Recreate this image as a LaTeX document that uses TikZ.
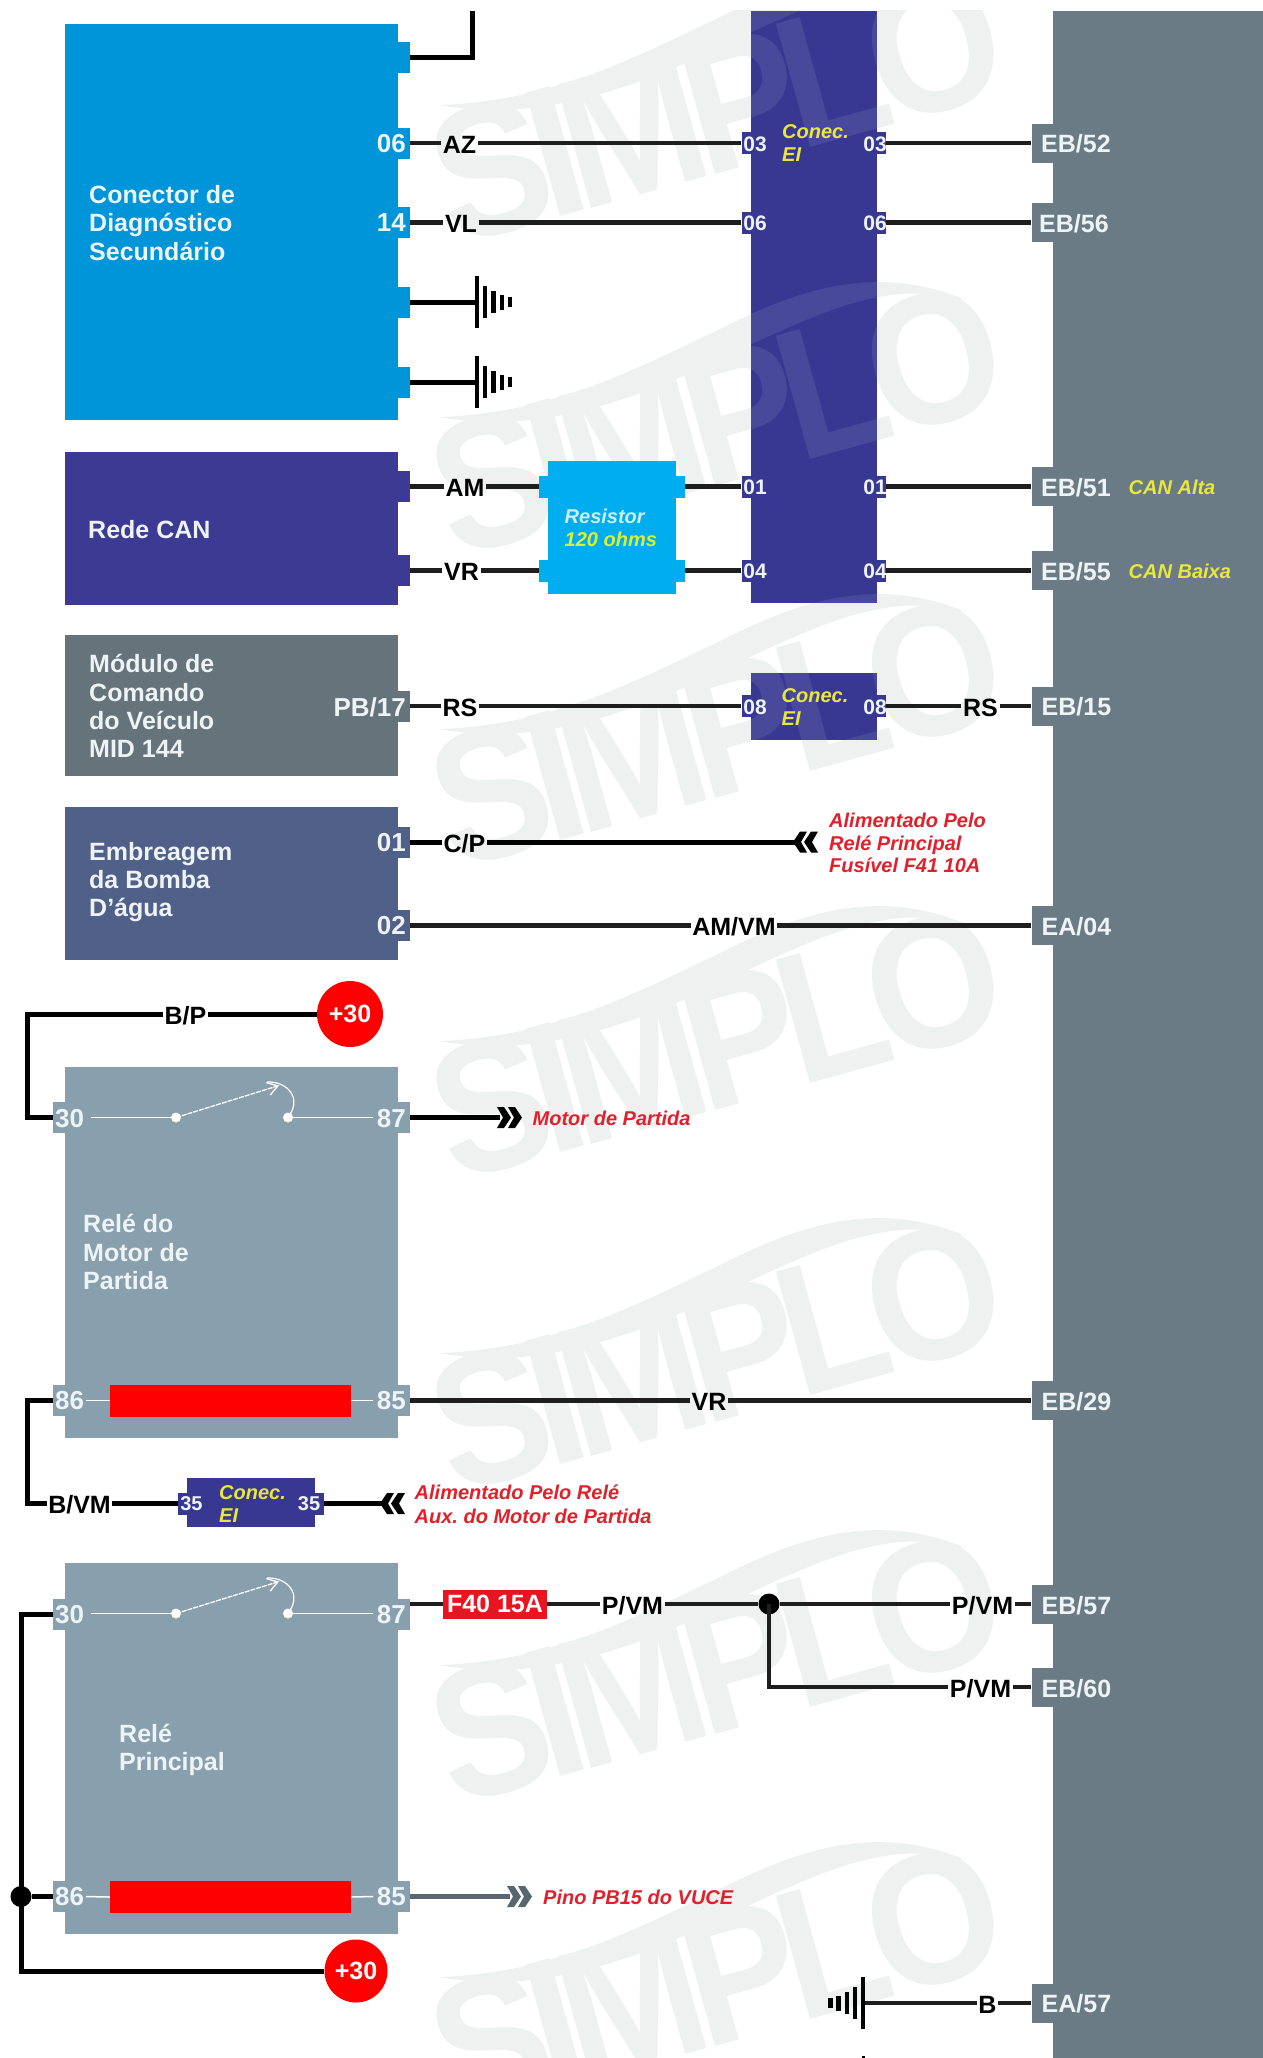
\documentclass[tikz,border=0pt]{standalone}
\usepackage{fontspec}
\setmainfont{Liberation Sans}
\usetikzlibrary{arrows.meta}
\definecolor{cblue}{HTML}{0094D9}
\definecolor{ccan}{HTML}{3C3A93}
\definecolor{cbar}{HTML}{383892}
\definecolor{cmod}{HTML}{65737B}
\definecolor{cemb}{HTML}{506089}
\definecolor{crel}{HTML}{88A0AE}
\definecolor{cgray}{HTML}{6B7B86}
\definecolor{cres}{HTML}{00AEEF}
\definecolor{cwm}{HTML}{EFF1F1}
\definecolor{cwire}{HTML}{1E1E1E}
\definecolor{cwire2}{HTML}{57666F}
\definecolor{cred}{HTML}{E2202C}
\definecolor{cyel}{HTML}{E8E83C}
\definecolor{ctxt}{HTML}{EEF3F6}
\newcommand\fsz[2]{\fontsize{#1}{#2}\selectfont}
\tikzset{
  blockbox/.style={draw=none,rectangle,inner sep=0pt},
  pintab/.style={draw=none,rectangle,inner sep=0pt,minimum width=12pt,minimum height=31pt},
  bigtab/.style={draw=none,rectangle,fill=cgray,inner sep=0pt,minimum width=26pt,minimum height=39pt},
  smalltab/.style={draw=none,rectangle,fill=cbar,inner sep=0pt,minimum width=9pt,minimum height=22pt},
  pinnum/.style={text=ctxt,font=\bfseries\fsz{26}{28},inner sep=0pt},
  conpin/.style={text=ctxt,font=\bfseries\fsz{21}{23},inner sep=0pt},
  eblabel/.style={text=ctxt,font=\bfseries\fsz{25}{28},inner sep=0pt,anchor=west},
  boxtext/.style={text=ctxt,font=\bfseries\fsz{25}{28.3},align=left,anchor=west,inner sep=0pt},
  conectxt/.style={text=cyel,font=\bfseries\itshape\fsz{20}{23},align=left,anchor=west,inner sep=0pt},
  noteR/.style={text=cred,font=\bfseries\itshape\fsz{20}{22.2},align=left,anchor=west,inner sep=0pt},
  noteY/.style={text=cyel,font=\bfseries\itshape\fsz{20}{22},anchor=west,inner sep=0pt},
  wlabel/.style={text=black,font=\bfseries\fsz{25}{28},inner xsep=1.5pt,inner ysep=0pt,text height=20pt,text depth=0pt},
  wirel/.style={line width=4.2pt,cwire,line join=miter},
  wireb/.style={line width=5pt,black,line join=miter},
  wireg/.style={line width=4.2pt,cwire2},
  inner/.style={line width=1.5pt,white},
  swdot/.style={circle,fill=white,draw=none,minimum size=10pt,inner sep=0pt},
  jdot/.style={circle,fill=black,draw=none,minimum size=21pt,inner sep=0pt},
  plus/.style={circle,fill=red,draw=none,text=white,font=\bfseries\fsz{25}{28},minimum size=66pt,inner sep=0pt}
}
\newcommand\blk[6]{\node[blockbox,fill=#6,minimum width=#3-#1,minimum height=#4-#2] (#5) at ({(#1+#3)/2},{(#2+#4)/2}) {};}
\newcommand\chevR[4]{\begin{scope}[shift={(#1,#2)},xscale=#4]
 \fill[#3] (0,-10.5)--(7,-10.5)--(14,0)--(7,10.5)--(0,10.5)--(6,0)--cycle;
 \fill[#3] (11,-10.5)--(18,-10.5)--(25,0)--(18,10.5)--(11,10.5)--(17,0)--cycle;
\end{scope}}
\newcommand\gnd[3]{\begin{scope}[shift={(#1,#2)},xscale=#3]
 \fill[black] (-2,-26) rectangle (2,26);
 \fill[black] (6,-16) rectangle (10,16);
 \fill[black] (14,-11) rectangle (18.5,11);
 \fill[black] (22.5,-7.5) rectangle (27,7.5);
 \fill[black] (30.5,-5) rectangle (35,5);
\end{scope}}
\newcommand\wmark[2]{\begin{scope}[shift={(922,#1)}]
 \fill[#2] (-482,56) .. controls (-370,52) and (-290,10) .. (-200,-33) .. controls (-130,-68) and (-50,-100) .. (44,-61)
   .. controls (-40,-82) and (-100,-50) .. (-223,8) .. controls (-310,48) and (-400,72) .. (-482,56) -- cycle;
 \node[text=#2,font=\bfseries\fsz{186}{186},rotate=15.5,inner sep=0pt,xscale=.92] (wm#1) at (-205,58) {S\kern-16pt I\kern-16pt M\kern-16pt P\kern-16pt L\kern-16pt O};
\end{scope}}
\begin{document}
\begin{tikzpicture}[x=1pt,y=-1pt]
\useasboundingbox (0,0) rectangle (1263,2058);
\fill[white] (0,0) rectangle (1263,2058);
% watermark
\begin{scope}
 \clip (0,11) rectangle (1263,2058);
 \foreach \yy in {49,361,673,985,1297,1609,1921} {\wmark{\yy}{cwm}}
\end{scope}
% right grey panel
\blk{1053}{11}{1263}{2058}{ecu}{cgray}
% main blocks
\blk{65}{24}{398}{420}{cds}{cblue}
\blk{65}{451.5}{398}{605}{can}{ccan}
\blk{65}{635}{398}{776}{mid}{cmod}
\blk{65}{806.5}{398}{960}{emb}{cemb}
\blk{65}{1066.5}{398}{1438}{rela}{crel}
\blk{65}{1563}{398}{1933.5}{relb}{crel}
\blk{750.5}{11}{877}{603}{conA}{cbar}
\blk{750.5}{672.5}{877}{739.5}{conB}{cbar}
\blk{187}{1478}{314.5}{1527}{conC}{cbar}
\blk{548}{461}{675.5}{594}{res}{cres}
\blk{110}{1384.5}{351}{1416.5}{coilA}{red}
\blk{110}{1881}{351}{1913}{coilB}{red}
% watermark seen through the connector bars
\begin{scope}
 \clip (750.5,11) rectangle (877,603) (750.5,672.5) rectangle (877,739.5);
 \begin{scope}[opacity=.09]
 \foreach \yy in {49,361,673} {\wmark{\yy}{white}}
 \end{scope}
\end{scope}
% block texts
\node[boxtext] (tcds) at (89,223) {Conector de\\Diagnóstico\\Secundário};
\node[boxtext] (tcan) at (88,530) {Rede CAN};
\node[boxtext] (tmid) at (89,706) {Módulo de\\Comando\\do Veículo\\MID 144};
\node[boxtext] (temb) at (89,882) {Embreagem\\da Bomba\\D’água};
\node[boxtext] (trela) at (83,1252) {Relé do\\Motor de\\Partida};
\node[boxtext] (trelb) at (119,1750) {Relé\\Principal};
% left block tabs
\node[pintab,fill=cblue] (a0) at (404,58) {};
\node[pintab,fill=cblue] (a06) at (404,143) {};
\node[pintab,fill=cblue] (a14) at (404,222.5) {};
\node[pintab,fill=cblue] (ag1) at (404,302) {};
\node[pintab,fill=cblue] (ag2) at (404,382) {};
\node[pintab,fill=ccan] (cam) at (404,486.5) {};
\node[pintab,fill=ccan] (cvr) at (404,570.5) {};
\node[pintab,fill=cmod] (m17) at (404,706) {};
\node[pintab,fill=cemb] (e01) at (404,842) {};
\node[pintab,fill=cemb] (e02) at (404,925.5) {};
\node[pintab,fill=crel] (r30) at (59,1117.5) {};
\node[pintab,fill=crel] (r87) at (404,1117.5) {};
\node[pintab,fill=crel] (r86) at (59,1400.5) {};
\node[pintab,fill=crel] (r85) at (404,1400.5) {};
\node[pintab,fill=crel] (p30) at (59,1614) {};
\node[pintab,fill=crel] (p87) at (404,1614) {};
\node[pintab,fill=crel] (p86) at (59,1896.5) {};
\node[pintab,fill=crel] (p85) at (404,1896.5) {};
% resistor tabs
\node[smalltab,fill=cres] (resa) at (543.5,486.5) {};
\node[smalltab,fill=cres] (resb) at (543.5,570.5) {};
\node[smalltab,fill=cres] (resc) at (680,486.5) {};
\node[smalltab,fill=cres] (resd) at (680,570.5) {};
% connector bar tabs
\foreach \nm/\yy in {3/143,6/222.5,1/486.5,4/570.5,8/706}{
  \node[smalltab] (cl\nm) at (746,\yy) {};
  \node[smalltab] (cr\nm) at (881.5,\yy) {};
}
\node[smalltab] (cl5) at (182.5,1503.5) {};
\node[smalltab] (cr5) at (319,1503.5) {};
% ECU tabs
\foreach \nm/\yy in {e52/143,e56/222.5,e51/486.5,e55/570.5,e15/706,e04/925.5,e29/1400.5,e57/1604,e60/1687,e5a/2003}{
  \node[bigtab] (\nm) at (1044.5,\yy) {};
}
% wire labels
\node[wlabel] (az) at (459.5,143) {AZ};
\node[wlabel] (vl) at (461,222.5) {VL};
\node[wlabel] (am) at (465,486.5) {AM};
\node[wlabel] (vr) at (461.5,570.5) {VR};
\node[wlabel] (rs1) at (460,706) {RS};
\node[wlabel] (rs2) at (980.5,706) {RS};
\node[wlabel] (cp) at (464.5,842) {C/P};
\node[wlabel] (amvm) at (734,925.5) {AM/VM};
\node[wlabel] (bp) at (185.5,1014) {B/P};
\node[wlabel] (vr2) at (709,1400.5) {VR};
\node[wlabel] (bvm) at (79.5,1503.5) {B/VM};
\node[wlabel] (pvm1) at (632.5,1604) {P/VM};
\node[wlabel] (pvm2) at (982.5,1604) {P/VM};
\node[wlabel] (pvm3) at (980.5,1687) {P/VM};
\node[wlabel] (bb) at (987.5,2003) {B};
\node[rectangle,fill={rgb,255:red,234;green,20;blue,32},text=white,font=\bfseries\fsz{25}{28},inner sep=0pt,minimum width=104pt,minimum height=29pt] (fuse) at (495,1604) {F40 15A};
\node[plus] (plusA) at (350,1014) {+30};
\node[plus,minimum size=63pt] (plusB) at (356,1971) {+30};
% wire end points
\coordinate (topend) at (472,11);
\coordinate (topbend) at (472,58);
\coordinate (g1) at (477,302);
\coordinate (g2) at (477,382);
\coordinate (g3) at (863,2003);
\coordinate (chev1) at (796,842);
\coordinate (chev2) at (500,1117.5);
\coordinate (chev3) at (384,1503.5);
\coordinate (chev4) at (510,1896.5);
\coordinate (p87w) at (410,1604);
\coordinate (bpa) at (27.5,1014);
\coordinate (bpb) at (27.5,1117.5);
\coordinate (bvma) at (27.5,1400.5);
\coordinate (bvmb) at (27.5,1503.5);
\node[jdot] (j1) at (769,1604) {};
\node[jdot] (j2) at (21,1896.5) {};
% wires
\draw[wireb] (a0.east) -- (topbend) -- (topend);
\draw[wirel] (a06.east) -- (az) -- (cl3.west);
\draw[wirel] (a14.east) -- (vl) -- (cl6.west);
\draw[wirel] (cr3.east) -- (e52.west);
\draw[wirel] (cr6.east) -- (e56.west);
\draw[wireb] (ag1.east) -- (g1);
\draw[wireb] (ag2.east) -- (g2);
\draw[wirel] (cam.east) -- (am) -- (resa.west);
\draw[wirel] (cvr.east) -- (vr) -- (resb.west);
\draw[wirel] (resc.east) -- (cl1.west);
\draw[wirel] (resd.east) -- (cl4.west);
\draw[wirel] (cr1.east) -- (e51.west);
\draw[wirel] (cr4.east) -- (e55.west);
\draw[wirel] (m17.east) -- (rs1) -- (cl8.west);
\draw[wirel] (cr8.east) -- (rs2) -- (e15.west);
\draw[wireb] (e01.east) -- (cp) -- (chev1);
\draw[wirel] (e02.east) -- (amvm) -- (e04.west);
\draw[wireb] (plusA) -- (bp);
\draw[wireb] (bp) -- (bpa) -- (bpb) -- (r30.west);
\draw[wireb] (r87.east) -- (chev2);
\draw[wirel] (r85.east) -- (vr2) -- (e29.west);
\draw[wireb] (r86.west) -- (bvma) -- (bvmb) -- (bvm);
\draw[wireb] (bvm) -- (cl5.west);
\draw[wireb] (cr5.east) -- (chev3);
\draw[wirel] (p87w) -- (fuse) -- (pvm1) -- (j1);
\draw[wirel] (j1) -- (pvm2) -- (e57.west);
\draw[wirel] (j1.center) |- (pvm3.west);
\draw[wirel] (pvm3) -- (e60.west);
\draw[wireb] (p30.west) -| (j2.center);
\draw[wireb] (p86.west) -- (j2);
\draw[wireb] (j2.center) |- (plusB.west);
\draw[wireg] (p85.east) -- (chev4);
\draw[wirel] (g3) -- (bb) -- (e5a.west);
% ground symbols and chevrons
\gnd{477}{302}{1}
\gnd{477}{382}{1}
\gnd{863}{2003}{-1}
\chevR{818}{842}{black}{-1}
\chevR{497}{1117.5}{black}{1}
\chevR{405}{1503.5}{black}{-1}
\chevR{507}{1896.5}{cwire2}{1}
\fill[black] (862,2055.5) rectangle (865,2058);
% pin numbers
\node[pinnum,anchor=east] (n06) at (406,144) {06};
\node[pinnum,anchor=east] (n14) at (406,223) {14};
\node[pinnum,anchor=east] (n17) at (406,707) {PB/17};
\node[pinnum,anchor=east] (n01) at (406,843) {01};
\node[pinnum,anchor=east] (n02) at (406,926) {02};
\node[pinnum,anchor=west] (n30a) at (55,1118.5) {30};
\node[pinnum,anchor=east] (n87a) at (406,1118.5) {87};
\node[pinnum,anchor=west] (n86a) at (55,1401) {86};
\node[pinnum,anchor=east] (n85a) at (406,1401) {85};
\node[pinnum,anchor=west] (n30b) at (55,1614.5) {30};
\node[pinnum,anchor=east] (n87b) at (406,1614.5) {87};
\node[pinnum,anchor=west] (n86b) at (55,1897) {86};
\node[pinnum,anchor=east] (n85b) at (406,1897) {85};
% connector pin numbers
\foreach \tt/\yy in {03/144,06/223,01/487,04/571,08/707}{
  \node[conpin] (pl\tt) at (755,\yy) {\tt};
  \node[conpin] (pr\tt) at (875,\yy) {\tt};
}
\node[conpin,font=\bfseries\fsz{20}{22}] (n35a) at (191.5,1504) {35};
\node[conpin,font=\bfseries\fsz{20}{22}] (n35b) at (309,1504) {35};
% relay contacts
\foreach \pre/\yy/\tip/\ctop in {a/1117.5/1085.5/1082,b/1613.5/1581.5/1578}{
  \node[swdot] (d1\pre) at (176,\yy) {};
  \node[swdot] (d2\pre) at (288,\yy) {};
  \coordinate (tip\pre) at (279,\tip);
  \draw[inner,line width=1.3pt,dash pattern=on 5pt off 1pt,-{Straight Barb[length=10pt,width=13pt]}] (d1\pre.center) -- (tip\pre);
  \draw[inner,line width=1.2pt] (267,\ctop) .. controls (287,\ctop-1) and (303,\ctop+16) .. (d2\pre.center);
  \draw[inner] (91,\yy) -- (d1\pre);
  \draw[inner] (d2\pre) -- (373,\yy);
}
\draw[inner] (86,1400.5) -- (coilA.west);
\draw[inner] (coilA.east) -- (373,1400.5);
\draw[inner] (86,1896.5) -- (coilB.west);
\draw[inner] (coilB.east) -- (373,1896.5);
% ECU labels
\node[eblabel] (l52) at (1041,144) {EB/52};
\node[eblabel] (l56) at (1039,223.5) {EB/56};
\node[eblabel] (l51) at (1041,487.5) {EB/51};
\node[eblabel] (l55) at (1041,571.5) {EB/55};
\node[eblabel] (l15) at (1041.5,707) {EB/15};
\node[eblabel] (l04) at (1041.5,926.5) {EA/04};
\node[eblabel] (l29) at (1041.5,1402) {EB/29};
\node[eblabel] (l57) at (1041.5,1605.5) {EB/57};
\node[eblabel] (l60) at (1041.5,1688.5) {EB/60};
\node[eblabel] (l5a) at (1041.5,2004) {EA/57};
% yellow notes
\node[noteY] (ncana) at (1128.5,487) {CAN Alta};
\node[noteY] (ncanb) at (1128.5,571) {CAN Baixa};
\node[conectxt] (ca) at (782,143.5) {Conec.\\EI};
\node[conectxt] (cb) at (781.5,707) {Conec.\\EI};
\node[conectxt] (cc) at (219,1503.5) {Conec.\\EI};
\node[conectxt,text=white!80!cres,align=left] (rr1) at (564.5,516.5) {Resistor};
\node[conectxt,text={rgb,255:red,220;green,240;blue,50}] (rr2) at (564.5,539.5) {120 ohms};
% red notes
\node[noteR] (nf) at (829,843) {Alimentado Pelo\\Relé Principal\\Fusível F41 10A};
\node[noteR] (nm) at (532.5,1118.5) {Motor de Partida};
\node[noteR,font=\bfseries\itshape\fsz{20}{23.5}] (na) at (414.5,1504) {Alimentado Pelo Relé\\Aux.\ do Motor de Partida};
\node[noteR] (np) at (543,1897) {Pino PB15 do VUCE};
\end{tikzpicture}
\end{document}
